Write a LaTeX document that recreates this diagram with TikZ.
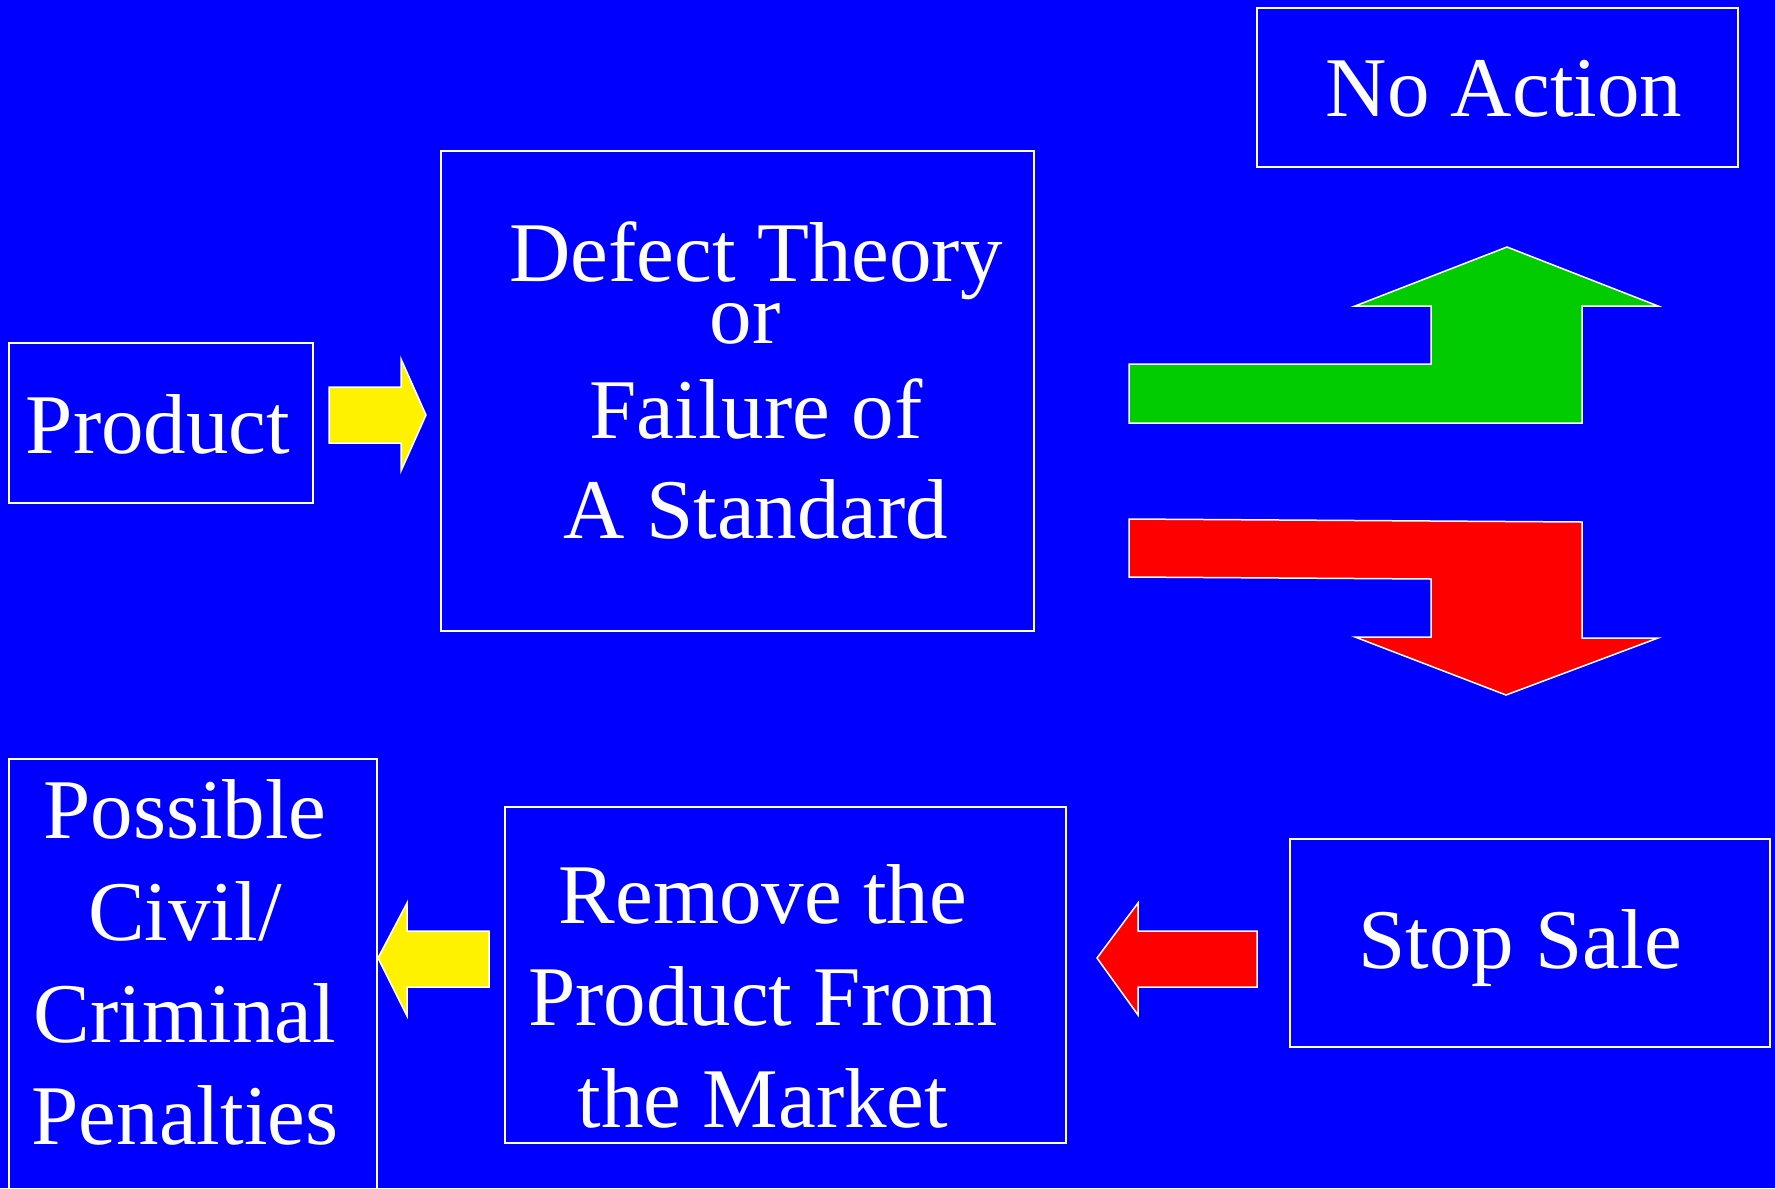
\documentclass[tikz,border=0pt]{standalone}
\usepackage{fontspec}
\setmainfont{Liberation Serif}
\definecolor{arrowgreen}{RGB}{0,204,0}
\begin{document}
\begin{tikzpicture}[x=0.5pt, y=-0.5pt,
    box/.style={draw=white, line width=1pt, inner sep=0pt},
    txt/.style={text=white, font=\fontsize{42.5}{51}\selectfont, align=center, anchor=base, inner sep=0pt},
    blockarrow/.style={draw=white, line width=0.75pt, line join=miter}]

    \fill[blue] (0,0) rectangle (1775,1188);
    \clip (0,0) rectangle (1775,1188);

    % boxes
    \node[box, minimum width=240.5pt, minimum height=79.5pt] (noaction) at (1497.5,87.5) {};
    \node[box, minimum width=296.5pt, minimum height=240pt] (defect) at (737.5,391) {};
    \node[box, minimum width=152pt, minimum height=80pt] (product) at (161,423) {};
    \node[box, minimum width=184pt, minimum height=220.5pt] (possible) at (193,979.5) {};
    \node[box, minimum width=280.5pt, minimum height=168pt] (remove) at (785.5,975) {};
    \node[box, minimum width=240pt, minimum height=104pt] (stopsale) at (1530,943) {};

    % texts (base = last line)
    \node[txt] (noactiontxt) at (1504,117) {No Action};
    \node[txt] (defecttxt) at (756,538) {Defect Theory\\[-20pt]or\rule{11pt}{0pt}\\[-3.5pt]Failure of\\[-1pt]A Standard};
    \node[txt] (producttxt) at (158,453) {Product};
    \node[txt] (possibletxt) at (185,1144) {Possible\\Civil/\\Criminal\\Penalties};
    \node[txt] (removetxt) at (763,1127) {Remove the\\Product From\\the Market};
    \node[txt] (stopsaletxt) at (1520,968) {Stop Sale};

    % arrows
    \draw[blockarrow, fill=yellow] (329,387) -- (401,387) -- (401,359) -- (426,415) -- (401,471) -- (401,443) -- (329,443) -- cycle;
    \draw[blockarrow, fill=yellow] (489,931) -- (407,931) -- (407,903) -- (378,958) -- (407,1016) -- (407,987) -- (489,987) -- cycle;
    \draw[blockarrow, fill=red] (1257,931) -- (1138,931) -- (1138,903) -- (1097,958) -- (1138,1015) -- (1138,987) -- (1257,987) -- cycle;

    \draw[blockarrow, fill=arrowgreen] (1129,364) -- (1431,364) -- (1431,306) -- (1355,306) -- (1507,247) -- (1658,306) -- (1582,306) -- (1582,423) -- (1129,423) -- cycle;
    \draw[blockarrow, fill=red] (1129,519) -- (1582,522) -- (1582,638) -- (1658,638) -- (1506,695) -- (1355,637) -- (1431,637) -- (1431,579) -- (1129,577) -- cycle;

\end{tikzpicture}
\end{document}
